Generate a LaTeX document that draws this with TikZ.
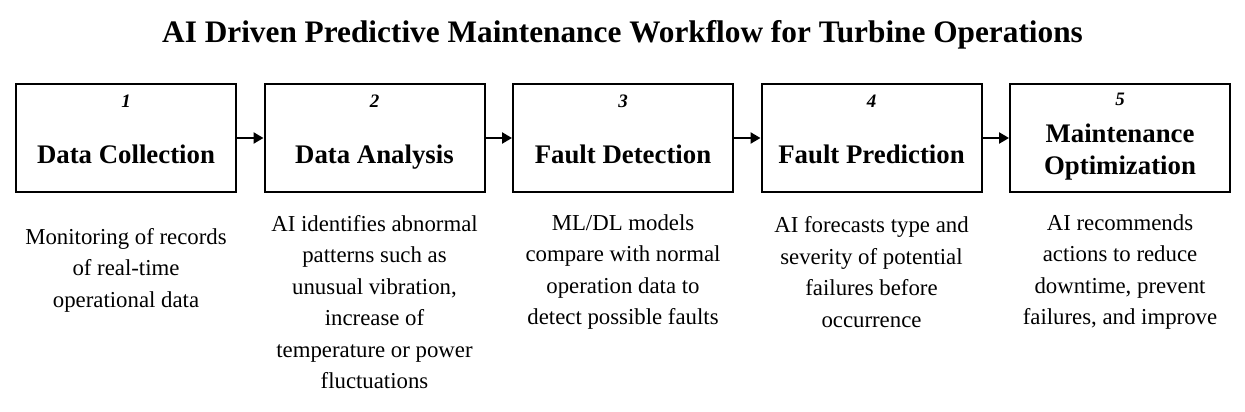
\documentclass[tikz,border=0pt]{standalone}
\usepackage{fontspec}
\setmainfont{Liberation Serif}
\usetikzlibrary{arrows.meta}

\tikzset{
  etape/.style={draw, line width=2pt, minimum width=220pt, minimum height=108pt, inner sep=0pt},
  numero/.style={font=\bfseries\itshape\fontsize{19}{22}\selectfont, anchor=base},
  titre/.style={font=\bfseries\fontsize{26.8}{32}\selectfont, align=center},
  texte/.style={font=\fontsize{22.8}{31.4}\selectfont, align=center},
  fleche/.style={line width=2.5pt, -{Triangle[length=10pt,width=11pt]}}
}

\begin{document}
\begin{tikzpicture}[x=1pt, y=-1pt]

% Cadre de la figure
\useasboundingbox (0,0) rectangle (1245,412);

% Titre
\node[font=\bfseries\fontsize{31.3}{36}\selectfont] (titre) at (622.5,35) {AI Driven Predictive Maintenance Workflow for Turbine Operations};

% Boîtes des étapes
\node[etape] (b1) at (126,138) {};
\node[etape] (b2) at (374.5,138) {};
\node[etape] (b3) at (623,138) {};
\node[etape] (b4) at (871.5,138) {};
\node[etape] (b5) at (1120,138) {};

% Numéros des étapes
\node[numero] (n1) at (126,107) {1};
\node[numero] (n2) at (374.5,107) {2};
\node[numero] (n3) at (623,107) {3};
\node[numero] (n4) at (871.5,107) {4};
\node[numero] (n5) at (1120,106) {5};

% Noms des étapes
\node[titre, anchor=base] (t1) at (126,163) {Data Collection};
\node[titre, anchor=base] (t2) at (374.5,163) {Data Analysis};
\node[titre, anchor=base] (t3) at (623,163) {Fault Detection};
\node[titre, anchor=base] (t4) at (871.5,163) {Fault Prediction};
\node[titre] (t5) at (1120,152) {Maintenance\\Optimization};

% Flèches entre les étapes
\draw[fleche] (b1.east) -- (b2.west);
\draw[fleche] (b2.east) -- (b3.west);
\draw[fleche] (b3.east) -- (b4.west);
\draw[fleche] (b4.east) -- (b5.west);

% Descriptions
\node[texte] (d1) at (126,270) {Monitoring of records\\of real-time\\operational data};
\node[texte] (d2) at (374.5,302) {AI identifies abnormal\\patterns such as\\unusual vibration,\\increase of\\temperature or power\\fluctuations};
\node[texte] (d3) at (623,272) {ML/DL models\\compare with normal\\operation data to\\detect possible faults};
\node[texte] (d4) at (871.5,272) {AI forecasts type and\\severity of potential\\failures before\\occurrence};
\node[texte] (d5) at (1120,272) {AI recommends\\actions to reduce\\downtime, prevent\\failures, and improve};

\end{tikzpicture}
\end{document}
